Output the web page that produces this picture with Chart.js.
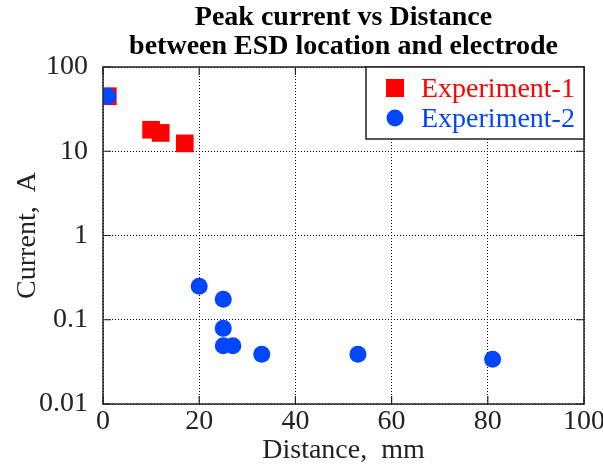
<!DOCTYPE html>
<html>
<head>
<meta charset="utf-8">
<script src="https://cdn.jsdelivr.net/npm/chart.js@4/dist/chart.umd.min.js"></script>
<style>
html,body{margin:0;padding:0;background:#fff;}
#c{display:block;}
</style>
</head>
<body>
<canvas id="c" width="603" height="467"></canvas>
<script>
const titleLines = ['Peak current vs Distance', 'between ESD location and electrode'];
const xAxisTitle = 'Distance,  mm';
const yAxisTitle = 'Current,  A';
const seriesNames = ['Experiment-1', 'Experiment-2'];
const exp1Distance = [1, 10, 12, 17];
const exp1Current = [45, 18, 16.5, 12.4];
const exp2Distance = [1, 20, 25, 25, 25, 27, 33, 53, 81];
const exp2Current = [45, 0.25, 0.175, 0.079, 0.049, 0.049, 0.039, 0.039, 0.034];
const xTickValues = [0, 20, 40, 60, 80, 100];
const yTickValues = [0.01, 0.1, 1, 10, 100];
const yTickLabels = ['0.01', '0.1', '1', '10', '100'];

const SERIF = '"Liberation Serif", "Times New Roman", serif';
const RED = '#ff0000';
const BLUE = '#0046ff';

function pts(xs, ys) { return xs.map((x, i) => ({ x: x, y: ys[i] })); }

const decor = {
  id: 'decor',
  afterDraw(chart) {
    const ctx = chart.ctx;
    const a = chart.chartArea;
    const xs = chart.scales.x, ys = chart.scales.y;
    ctx.save();
    // frame
    ctx.strokeStyle = '#222';
    ctx.lineWidth = 1.5;
    ctx.strokeRect(a.left, a.top, a.right - a.left, a.bottom - a.top);
    // inward ticks
    ctx.lineWidth = 1.2;
    ctx.beginPath();
    xTickValues.forEach(v => {
      const px = xs.getPixelForValue(v);
      ctx.moveTo(px, a.bottom); ctx.lineTo(px, a.bottom - 8);
      ctx.moveTo(px, a.top); ctx.lineTo(px, a.top + 8);
    });
    yTickValues.forEach(v => {
      const py = ys.getPixelForValue(v);
      ctx.moveTo(a.left, py); ctx.lineTo(a.left + 8, py);
      ctx.moveTo(a.right, py); ctx.lineTo(a.right - 8, py);
    });
    ctx.stroke();
    // title
    const cx = (a.left + a.right) / 2;
    ctx.fillStyle = '#000';
    ctx.font = 'bold 28px ' + SERIF;
    ctx.textAlign = 'center';
    ctx.textBaseline = 'alphabetic';
    ctx.fillText(titleLines[0], cx, 25);
    ctx.fillText(titleLines[1], cx, 54);
    // legend
    const lx = a.right - 218, ly = a.top, lw = 218, lh = 72;
    ctx.fillStyle = '#fff';
    ctx.fillRect(lx, ly, lw, lh);
    ctx.strokeStyle = '#222';
    ctx.lineWidth = 1.5;
    ctx.strokeRect(lx, ly, lw, lh);
    const ds = chart.data.datasets;
    ctx.textAlign = 'left';
    ctx.font = '28px ' + SERIF;
    ds.forEach((d, i) => {
      const my = ly + 21 + i * 30;
      const mx = lx + 29;
      ctx.fillStyle = d.backgroundColor;
      if (d.pointStyle === 'rect') {
        ctx.fillRect(mx - 9, my - 9, 18, 18);
      } else {
        ctx.beginPath(); ctx.arc(mx, my, 8.5, 0, Math.PI * 2); ctx.fill();
      }
      ctx.fillText(d.label, lx + 55, my + 9);
    });
    ctx.restore();
  }
};

new Chart(document.getElementById('c'), {
  type: 'scatter',
  data: {
    datasets: [
      { label: seriesNames[0], data: pts(exp1Distance, exp1Current), pointStyle: 'rect',
        pointRadius: 12.5, pointHoverRadius: 12.5, backgroundColor: RED, borderColor: RED, borderWidth: 0, order: 1 },
      { label: seriesNames[1], data: pts(exp2Distance, exp2Current), pointStyle: 'circle',
        pointRadius: 8.5, pointHoverRadius: 8.5, backgroundColor: BLUE, borderColor: BLUE, borderWidth: 0, order: 0 }
    ]
  },
  options: {
    responsive: false,
    animation: false,
    devicePixelRatio: 1,
    layout: { padding: { left: 0, right: 19, top: 67, bottom: 0 } },
    plugins: { legend: { display: false }, title: { display: false }, tooltip: { enabled: false } },
    scales: {
      x: {
        type: 'linear', min: 0, max: 100,
        ticks: { stepSize: 20, color: '#222', font: { family: SERIF, size: 28 }, padding: 1, maxRotation: 0 },
        grid: { color: '#000', lineWidth: 1, drawTicks: false },
        border: { display: false, dash: [1, 2] },
        title: { display: true, text: xAxisTitle, color: '#222', font: { family: SERIF, size: 28 }, padding: 0 },
        afterFit(s) { s.height = 63; s.paddingLeft = 0; s.paddingRight = 0; }
      },
      y: {
        type: 'logarithmic', min: 0.01, max: 100,
        afterBuildTicks(s) { s.ticks = yTickValues.map(v => ({ value: v })); },
        ticks: { color: '#222', font: { family: SERIF, size: 28 }, padding: 15,
          callback: (v) => { const i = yTickValues.indexOf(v); return i >= 0 ? yTickLabels[i] : ''; } },
        grid: { color: '#000', lineWidth: 1, drawTicks: false },
        border: { display: false, dash: [1, 2] },
        title: { display: true, text: yAxisTitle, color: '#222', font: { family: SERIF, size: 28 }, padding: { top: 11, bottom: 0 } },
        afterFit(s) { s.width = 103; s.paddingTop = 0; s.paddingBottom = 0; }
      }
    }
  },
  plugins: [decor]
});
</script>
</body>
</html>
